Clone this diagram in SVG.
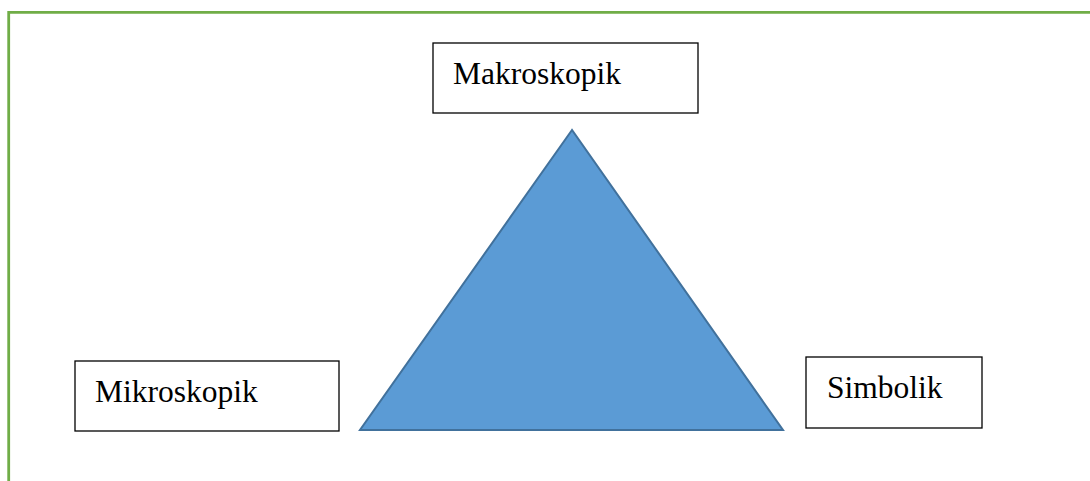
<svg xmlns="http://www.w3.org/2000/svg" width="1090" height="481" viewBox="0 0 1090 481">
<style>
.box{fill:#fff;stroke:#000;stroke-width:1.3}
.lbl{font-family:"Liberation Serif","Times New Roman",serif;font-size:31.5px;fill:#000}
</style>
<rect width="1090" height="481" fill="#fff"/>
<path d="M8.7,481 V12.3 H1090" fill="none" stroke="#70AD47" stroke-width="2.8"/>
<g id="triangle">
<polygon points="572,130 360,430 783,430" fill="#5B9BD5" stroke="#41719C" stroke-width="2"/>
</g>
<g id="makroskopik">
<rect class="box" x="433" y="43" width="265" height="70"/>
<text class="lbl" x="453" y="84">Makroskopik</text>
</g>
<g id="mikroskopik">
<rect class="box" x="75" y="361" width="264" height="70"/>
<text class="lbl" x="95" y="402">Mikroskopik</text>
</g>
<g id="simbolik">
<rect class="box" x="806" y="357" width="176" height="71"/>
<text class="lbl" x="827" y="398">Simbolik</text>
</g>
<g id="connectors"></g>
</svg>
